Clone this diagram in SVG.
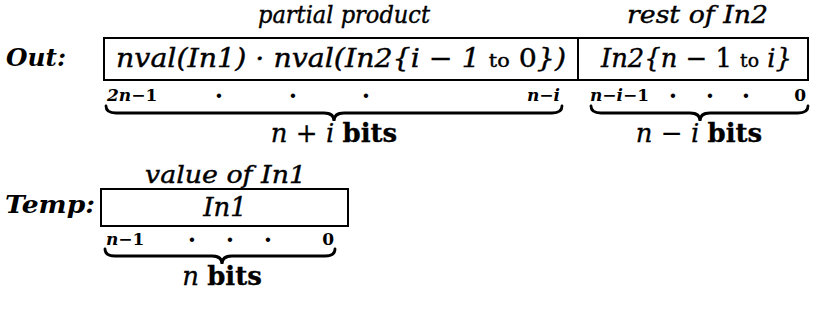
<svg xmlns="http://www.w3.org/2000/svg" width="817" height="326" viewBox="0 0 817 326">
<style>
text{font-family:"DejaVu Serif","Liberation Serif",serif;fill:#000}
.it{font-style:italic;font-size:26px;stroke:#000;stroke-width:0.4}
.hd{font-style:italic;font-size:24px;stroke:#000;stroke-width:0.4}
.lab{font-style:italic;font-weight:bold;font-size:25px}
.up{font-style:normal}
.sm{font-weight:bold;font-size:17px}
.dot{font-weight:bold;font-size:24px}
.bits{font-size:26px;stroke:#000;stroke-width:0.3}
.box{fill:#fff;stroke:#000;stroke-width:2}
.brace{fill:none;stroke:#000;stroke-width:2.8;stroke-linecap:round}
</style>
<g id="out">
<text class="lab" x="6" y="66" textLength="60" lengthAdjust="spacingAndGlyphs">Out:</text>
<text class="hd" x="258" y="23" textLength="172" lengthAdjust="spacingAndGlyphs">partial product</text>
<text class="hd" x="627" y="23" textLength="141" lengthAdjust="spacingAndGlyphs">rest of In2</text>
<rect class="box" x="104" y="38" width="704" height="42"/>
<line x1="578" y1="38" x2="578" y2="80" stroke="#000" stroke-width="2"/>
<text class="it" x="116" y="67" textLength="450" lengthAdjust="spacingAndGlyphs">nval(In1) · nval(In2{i − 1 <tspan class="up" font-size="19">to</tspan> <tspan class="up">0</tspan>})</text>
<text class="it" x="601" y="67" textLength="191" lengthAdjust="spacingAndGlyphs">In2{n − <tspan class="up">1</tspan> <tspan class="up" font-size="19">to</tspan> i}</text>
</g>
<g id="out-bits">
<text class="sm" x="107" y="101"><tspan font-style="italic">2n</tspan>−1</text>
<text class="dot" x="219" y="104" text-anchor="middle">·</text>
<text class="dot" x="293" y="104" text-anchor="middle">·</text>
<text class="dot" x="366" y="104" text-anchor="middle">·</text>
<text class="sm" x="560" y="101" text-anchor="end" font-style="italic">n−i</text>
<text class="sm" x="590" y="101" font-style="italic">n−i−<tspan font-style="normal">1</tspan></text>
<text class="dot" x="673" y="104" text-anchor="middle">·</text>
<text class="dot" x="710" y="104" text-anchor="middle">·</text>
<text class="dot" x="746" y="104" text-anchor="middle">·</text>
<text class="sm" x="806" y="101" text-anchor="end">0</text>
</g>
<g id="connectors">
<path class="brace" d="M106,106 Q106,113 116,113 L324,113 Q334,113 334,121 Q334,113 344,113 L552,113 Q562,113 562,106"/>
<path class="brace" d="M591,106 Q591,113 601,113 L690,113 Q700,113 700,121 Q700,113 710,113 L798,113 Q808,113 808,106"/>
<path class="brace" d="M105,249 Q105,256 115,256 L212,256 Q222,256 222,264 Q222,256 232,256 L325,256 Q335,256 335,249"/>
</g>
<g id="out-widths">
<text class="bits" x="334" y="142" text-anchor="middle"><tspan font-style="italic">n</tspan> + <tspan font-style="italic">i</tspan> <tspan font-weight="bold">bits</tspan></text>
<text class="bits" x="699" y="142" text-anchor="middle"><tspan font-style="italic">n</tspan> − <tspan font-style="italic">i</tspan> <tspan font-weight="bold">bits</tspan></text>
</g>
<g id="temp">
<text class="hd" x="145" y="183" textLength="161" lengthAdjust="spacingAndGlyphs">value of In1</text>
<text class="lab" x="5" y="213" textLength="90" lengthAdjust="spacingAndGlyphs">Temp:</text>
<rect class="box" x="101" y="189" width="247" height="37"/>
<text class="it" x="225" y="216" text-anchor="middle">In1</text>
<text class="sm" x="106" y="245" font-style="italic">n−<tspan font-style="normal">1</tspan></text>
<text class="dot" x="192" y="248" text-anchor="middle">·</text>
<text class="dot" x="230" y="248" text-anchor="middle">·</text>
<text class="dot" x="268" y="248" text-anchor="middle">·</text>
<text class="sm" x="334" y="245" text-anchor="end">0</text>
<text class="bits" x="222" y="285" text-anchor="middle"><tspan font-style="italic">n</tspan> <tspan font-weight="bold">bits</tspan></text>
</g>
</svg>
